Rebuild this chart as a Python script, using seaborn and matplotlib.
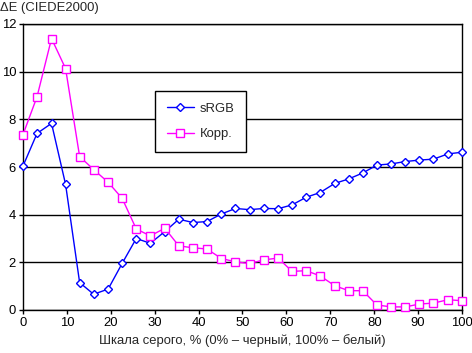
import numpy as np
import pandas as pd
import matplotlib
matplotlib.use("Agg")
import matplotlib.pyplot as plt
import seaborn as sns

gray_pct = [0.0, 3.2, 6.5, 9.7, 12.9, 16.1, 19.4, 22.6, 25.8, 29.0, 32.3, 35.5,
            38.7, 41.9, 45.2, 48.4, 51.6, 54.8, 58.1, 61.3, 64.5, 67.7, 71.0,
            74.2, 77.4, 80.6, 83.9, 87.1, 90.3, 93.5, 96.8, 100.0]
srgb = [6.04, 7.41, 7.83, 5.27, 1.15, 0.66, 0.88, 1.96, 3.00, 2.80, 3.29, 3.81,
        3.67, 3.71, 4.03, 4.26, 4.21, 4.26, 4.25, 4.41, 4.73, 4.93, 5.31,
        5.50, 5.75, 6.08, 6.13, 6.23, 6.29, 6.33, 6.55, 6.62]
korr = [7.36, 8.95, 11.39, 10.13, 6.44, 5.89, 5.36, 4.68, 3.40, 3.11, 3.43, 2.69,
        2.61, 2.56, 2.16, 2.02, 1.95, 2.10, 2.18, 1.62, 1.65, 1.43, 1.02,
        0.81, 0.81, 0.21, 0.13, 0.13, 0.25, 0.29, 0.43, 0.39]
series_names = ["sRGB", "Корр."]
x_ticks = [0, 10, 20, 30, 40, 50, 60, 70, 80, 90, 100]
y_ticks = [0, 2, 4, 6, 8, 10, 12]

sns.set_style("white")
plt.rcParams['font.family'] = ['Liberation Sans', 'DejaVu Sans']
FS = 9.4

df = pd.DataFrame({
    "x": gray_pct * 2,
    "y": srgb + korr,
    "series": [series_names[0]] * len(srgb) + [series_names[1]] * len(korr),
})

fig = plt.figure(figsize=(4.72, 3.53), dpi=100)
ax = fig.add_axes([23 / 472, 1 - 310 / 353, 439 / 472, 286 / 353])

colors = {series_names[0]: "#0000ff", series_names[1]: "#ff00ff"}
markers = {series_names[0]: "D", series_names[1]: "s"}
msize = {series_names[0]: 4.0, series_names[1]: 5.2}
for name in series_names:
    sns.lineplot(data=df[df["series"] == name], x="x", y="y", ax=ax,
                 color=colors[name], marker=markers[name],
                 markersize=msize[name], markerfacecolor="white",
                 markeredgecolor=colors[name], markeredgewidth=1.0,
                 linewidth=1.0, label=name, zorder=3, clip_on=False)

ax.set_xlim(0, 100)
ax.set_ylim(0, 12)
ax.set_xticks(x_ticks)
ax.set_yticks(y_ticks)
ax.set_xticklabels([str(t) for t in x_ticks], fontsize=FS)
ax.set_yticklabels([str(t) for t in y_ticks], fontsize=FS)
ax.tick_params(axis="both", direction="out", length=3, width=1, color="black",
               pad=2, labelcolor="black")
ax.tick_params(axis="y", left=True)
ax.tick_params(axis="x", bottom=True)
ax.grid(axis="y", color="black", linewidth=1.0, zorder=0)
ax.grid(axis="x", visible=False)
for s in ax.spines.values():
    s.set_visible(True)
    s.set_color("black")
    s.set_linewidth(1.0)
ax.set_xlabel("")
ax.set_ylabel("")

fig.text(0.0, 1 - 8 / 353, "ΔE (CIEDE2000)", fontsize=FS, ha="left", va="center")
fig.text((23 + 462) / 2 / 472, 1 - 341 / 353,
         "Шкала серого, % (0% – черный, 100% – белый)",
         fontsize=FS, ha="center", va="center")

leg = ax.legend(loc="upper left", bbox_to_anchor=((155 - 23) / 439, (310 - 91) / 286),
                borderaxespad=0, frameon=True, fancybox=False, fontsize=FS,
                handlelength=2.1, labelspacing=1.0, borderpad=0.9,
                handletextpad=0.4)
leg.get_frame().set_edgecolor("black")
leg.get_frame().set_linewidth(1.0)
leg.get_frame().set_facecolor("white")
leg.get_frame().set_alpha(1)
leg.set_zorder(5)

fig.savefig("out.png", dpi=100)
